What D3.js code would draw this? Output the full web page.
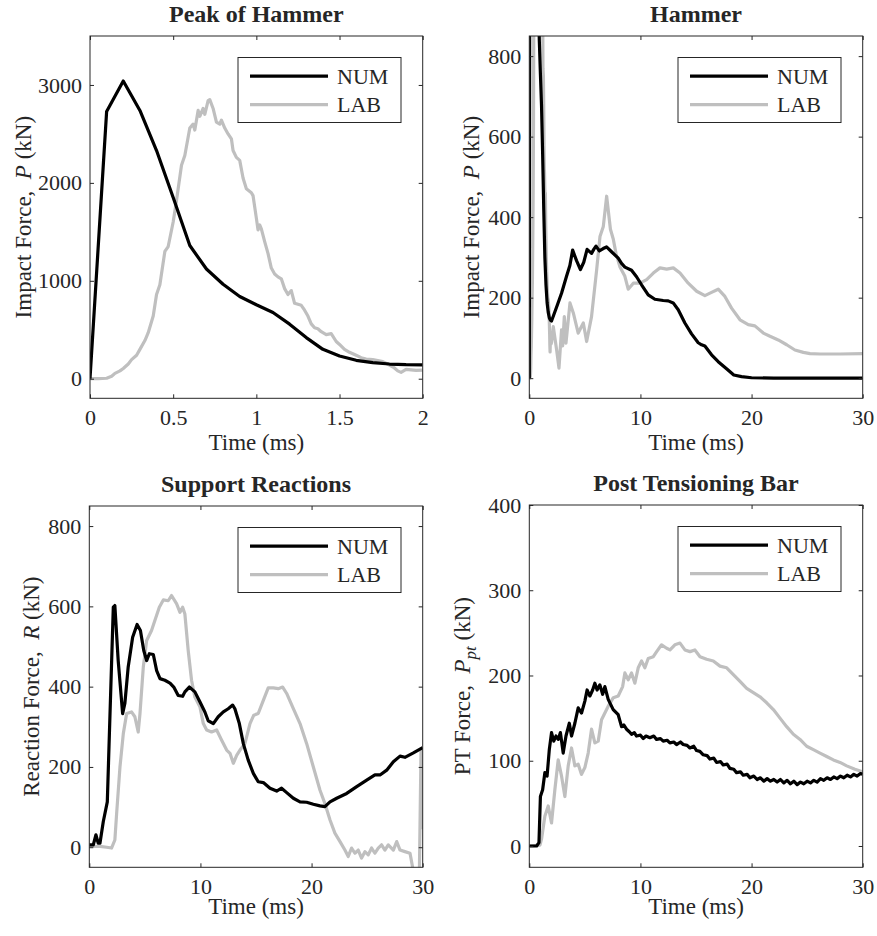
<!DOCTYPE html>
<html>
<head>
<meta charset="utf-8">
<script src="https://cdn.jsdelivr.net/npm/d3@7"></script>
<style>
  body { margin: 0; background: #fff; }
  svg { display: block; }
  text { font-family: "Liberation Serif", "Times New Roman", Times, serif; fill: #262626; white-space: pre; }
</style>
</head>
<body>
<svg id="fig" width="877" height="936"></svg>
<script>
// ---- data: [time (ms), force (kN)] ----
const seriesNames = ["NUM", "LAB"];

// impact force, first 2 ms
const peakNum = [[0,0],[0.1,2730],[0.2,3040],[0.3,2740],[0.4,2330],[0.5,1850],[0.6,1360],[0.7,1120],
  [0.8,965],[0.9,840],[1.0,755],[1.1,676],[1.2,557],[1.3,420],[1.4,300],[1.5,232],[1.6,188],[1.7,164],
  [1.8,150],[1.9,144],[2.0,142]];
const peakLab = [[0,0],[0.05,0],[0.1,5],[0.13,25],[0.15,55],[0.18,80],[0.2,105],[0.23,150],[0.25,195],
  [0.28,240],[0.3,300],[0.33,390],[0.35,470],[0.38,640],[0.4,860],[0.42,960],[0.45,1300],[0.47,1350],
  [0.5,1600],[0.52,1820],[0.55,2180],[0.57,2280],[0.6,2560],[0.62,2600],[0.63,2540],[0.65,2740],
  [0.66,2680],[0.68,2760],[0.69,2700],[0.71,2840],[0.72,2850],[0.74,2760],[0.76,2620],[0.78,2600],
  [0.79,2640],[0.81,2560],[0.83,2500],[0.85,2450],[0.86,2330],[0.88,2260],[0.9,2230],[0.92,2050],
  [0.94,1940],[0.97,1900],[0.98,1870],[1.0,1640],[1.01,1520],[1.02,1570],[1.03,1530],[1.05,1400],
  [1.07,1280],[1.09,1130],[1.11,1070],[1.13,1040],[1.15,1020],[1.17,920],[1.19,860],[1.21,900],
  [1.23,770],[1.25,760],[1.27,750],[1.29,700],[1.31,640],[1.33,560],[1.35,520],[1.37,510],[1.39,480],
  [1.42,450],[1.45,460],[1.48,380],[1.5,350],[1.53,300],[1.56,270],[1.6,240],[1.63,215],[1.66,200],
  [1.7,195],[1.73,185],[1.76,175],[1.8,140],[1.83,110],[1.85,80],[1.87,65],[1.9,95],[1.93,90],
  [1.96,85],[2.0,88]];

// impact force after 2 ms
const hammerNumTail = [[2.5,180],[2.9,211],[3.35,253],[3.65,280],[3.9,318],[4.25,292],[4.6,270],
  [4.9,288],[5.2,320],[5.6,310],[5.8,320],[6.0,328],[6.3,316],[6.65,322],[6.95,326],[7.4,314],[8.0,298],
  [8.3,285],[8.6,276],[9.2,268],[9.65,252],[10.1,232],[10.7,207],[11.3,196],[12.05,193],[12.5,192],
  [12.95,187],[13.4,170],[14.0,137],[14.6,110],[15.2,88],[15.5,83],[15.8,80],[16.4,58],[17.0,41],
  [17.8,22],[18.4,8],[19.1,4],[20.0,1],[22,0],[30,0]];
const hammerLabTail = [[2.16,128],[2.46,70],[2.67,25],[2.9,120],[3.0,80],[3.15,153],[3.3,87],
  [3.66,187],[3.96,162],[4.4,112],[4.86,137],[5.16,91],[5.6,153],[6.06,269],[6.36,352],[6.66,377],
  [6.96,452],[7.3,370],[7.56,345],[7.8,310],[8.16,276],[8.6,253],[8.9,221],[9.36,236],[9.96,236],
  [10.56,245],[11.16,261],[11.76,274],[12.36,271],[12.96,274],[13.56,261],[14.3,236],[15.06,216],
  [15.8,205],[16.4,213],[17.0,221],[17.6,203],[18.2,174],[18.96,145],[19.7,133],[20.3,130],
  [21.06,112],[21.66,104],[22.4,95],[23.16,83],[23.9,70],[24.66,64],[25.26,61],[26.16,60],
  [27.96,60],[30,61]];

// support reaction
const supportNum = [[0,6],[0.36,6],[0.6,31],[0.8,10],[0.96,10],[1.26,64],[1.62,113],[2.16,598],
  [2.3,602],[2.6,465],[3.0,333],[3.2,358],[3.5,449],[3.9,523],[4.3,555],[4.6,540],[4.9,490],[5.16,465],
  [5.4,482],[5.76,480],[6.06,440],[6.36,420],[6.8,416],[7.26,409],[7.6,399],[8.0,378],[8.4,376],
  [8.6,387],[9.0,399],[9.5,387],[9.96,362],[10.4,337],[10.7,315],[11.16,308],[11.6,325],[12.06,337],
  [12.5,345],[12.9,354],[13.1,345],[13.5,308],[13.86,258],[14.3,217],[14.76,184],[15.2,163],
  [15.66,161],[16.26,147],[16.86,140],[17.3,147],[17.76,136],[18.36,122],[18.96,113],[19.56,112],
  [20.16,107],[20.76,103],[21.2,101],[21.66,113],[22.26,122],[23.16,134],[24.06,151],[24.96,167],
  [25.7,180],[26.16,180],[26.76,192],[27.36,213],[27.96,227],[28.4,224],[29.16,235],[30,248]];
const supportLab = [[0,2],[0.96,2],[1.56,0],[2.0,-2],[2.3,18],[2.46,84],[2.76,200],[3.06,283],
  [3.36,333],[3.8,337],[4.1,325],[4.4,287],[4.56,333],[4.86,449],[5.16,515],[5.6,540],[5.9,565],
  [6.3,598],[6.66,616],[7.1,614],[7.4,627],[7.86,606],[8.16,585],[8.4,598],[8.6,581],[8.9,490],
  [9.2,416],[9.5,374],[9.96,349],[10.26,308],[10.56,292],[11.0,287],[11.46,292],[11.9,267],
  [12.36,242],[12.66,234],[12.96,209],[13.26,229],[13.56,242],[14.0,258],[14.46,308],[14.8,329],
  [15.2,333],[15.66,366],[16.1,397],[16.56,397],[17.0,395],[17.4,399],[17.76,383],[18.36,345],
  [18.96,308],[19.56,258],[20.16,200],[20.76,142],[21.2,109],[21.66,68],[22.1,35],[22.56,14],
  [23.0,-7],[23.3,-23],[23.6,-2],[23.9,-15],[24.2,-7],[24.5,-27],[24.8,-11],[25.1,-19],[25.4,-2],
  [25.7,-15],[26.0,-2],[26.3,6],[26.6,-7],[26.9,6],[27.36,-7],[27.66,14],[27.96,-7],[28.4,-11],
  [28.86,-15],[29.16,-60],[29.7,-65],[29.85,245],[30,45]];

// post-tensioning bar force
const ptNum = [[0,0],[0.66,0],[0.87,4],[1.0,58],[1.2,66],[1.4,86],[1.6,82],[1.8,113],[2.0,133],
  [2.2,123],[2.4,129],[2.6,125],[2.8,133],[3.05,109],[3.3,129],[3.6,144],[3.8,129],[4.1,144],[4.4,162],
  [4.7,156],[5.0,170],[5.2,183],[5.45,176],[5.7,183],[5.9,191],[6.1,183],[6.35,189],[6.6,178],
  [6.8,187],[7.1,172],[7.55,160],[8.0,154],[8.3,140],[8.5,142],[8.75,137],[9.0,134],[9.2,131],
  [9.45,133],[9.65,129],[10.0,130],[10.25,126],[10.5,129],[10.85,127],[11.2,129],[11.45,125],
  [11.8,126],[12.05,123],[12.4,124],[12.65,121],[13.0,122],[13.25,119],[13.6,122],[13.85,119],
  [14.2,118],[14.45,115],[14.8,117],[15.05,112],[15.35,111],[15.65,107],[16.0,106],[16.25,102],
  [16.6,103],[16.85,98],[17.2,99],[17.45,95],[17.8,96],[18.05,91],[18.4,90],[18.65,86],[19.0,87],
  [19.25,83],[19.6,84],[19.85,80],[20.2,82],[20.5,78],[20.8,80],[21.1,76],[21.4,79],[21.7,76],
  [22.0,78],[22.3,75],[22.6,78],[22.9,74],[23.2,77],[23.5,73],[23.8,76],[24.1,72],[24.4,75],[24.7,73],
  [25.0,76],[25.3,74],[25.6,77],[25.9,75],[26.2,79],[26.5,77],[26.8,80],[27.1,78],[27.4,81],[27.7,79],
  [28.0,82],[28.3,80],[28.6,83],[28.9,81],[29.2,84],[29.5,82],[29.8,85],[30,84]];
const ptLab = [[0,0],[0.96,1],[1.1,8],[1.4,35],[1.7,47],[2.0,27],[2.3,66],[2.6,101],[2.9,82],
  [3.2,58],[3.5,94],[3.8,115],[4.1,94],[4.4,96],[4.7,84],[5.0,92],[5.3,109],[5.6,137],[5.9,121],
  [6.2,123],[6.5,148],[6.8,156],[7.1,164],[7.56,174],[8.0,176],[8.4,187],[8.6,203],[8.9,195],
  [9.2,203],[9.5,191],[9.8,209],[10.1,217],[10.4,209],[10.7,220],[11.16,222],[11.46,228],[11.9,236],
  [12.36,232],[12.66,230],[13.1,236],[13.56,238],[14.0,230],[14.46,228],[14.9,230],[15.36,222],
  [15.96,219],[16.56,217],[17.16,211],[17.76,209],[18.36,201],[18.96,193],[19.56,185],[20.16,180],
  [20.76,175],[21.36,168],[21.96,160],[22.56,150],[23.16,140],[23.76,131],[24.36,125],[24.96,117],
  [25.56,113],[26.16,109],[26.76,105],[27.36,101],[27.96,98],[28.56,94],[29.3,90],[30,87]];

// ---- axes ----
const peakTimeTicks = [0, 0.5, 1, 1.5, 2];
const timeTicks = [0, 10, 20, 30];
const peakForceTicks = [0, 1000, 2000, 3000];
const forceTicks = [0, 200, 400, 600, 800];
const ptForceTicks = [0, 100, 200, 300, 400];

const titles = ["Peak of Hammer", "Hammer", "Support Reactions", "Post Tensioning Bar"];
const xLabel = "Time (ms)";

const NUM_COLOR = "#000000";
const LAB_COLOR = "#bfbfbf";
const AXIS_COLOR = "#262626";

const panels = [
  { title: titles[0], frame: [90, 36, 422.7, 398.3], xDomain: [0, 2], yDomain: [-200, 3500],
    xTicks: peakTimeTicks, yTicks: peakForceTicks, num: peakNum, lab: peakLab,
    yLabel: [["Impact Force,  "], ["P", "italic"], [" (kN)"]], yLabelOffset: 59, xLabelOffset: 52 },
  { title: titles[1], frame: [529.3, 36, 862.7, 398.3], xDomain: [0, 30], yDomain: [-50, 850],
    xTicks: timeTicks, yTicks: forceTicks, num: peakNum.concat(hammerNumTail),
    lab: peakLab.concat(hammerLabTail),
    yLabel: [["Impact Force,  "], ["P", "italic"], [" (kN)"]], yLabelOffset: 50, xLabelOffset: 52 },
  { title: titles[2], frame: [89.3, 506, 422.7, 867.3], xDomain: [0, 30], yDomain: [-50, 850],
    xTicks: timeTicks, yTicks: forceTicks, num: supportNum, lab: supportLab,
    yLabel: [["Reaction Force,  "], ["R", "italic"], [" (kN)"]], yLabelOffset: 50, xLabelOffset: 47 },
  { title: titles[3], frame: [529.3, 505, 862.7, 867.3], xDomain: [0, 30], yDomain: [-25, 400],
    xTicks: timeTicks, yTicks: ptForceTicks, num: ptNum, lab: ptLab,
    yLabel: [["PT Force,  "], ["P", "italic"], ["pt", "sub"], [" (kN)"]], yLabelOffset: 59, xLabelOffset: 47 }
];

const svg = d3.select("#fig");

panels.forEach((p, i) => {
  const [l, t, r, b] = p.frame;
  const x = d3.scaleLinear().domain(p.xDomain).range([l, r]);
  const y = d3.scaleLinear().domain(p.yDomain).range([b, t]);
  const g = svg.append("g");

  const clipId = "clip" + i;
  svg.append("clipPath").attr("id", clipId)
    .append("rect").attr("x", l).attr("y", t).attr("width", r - l).attr("height", b - t);

  // series
  const line = d3.line().x(d => x(d[0])).y(d => y(d[1]));
  const lines = g.append("g").attr("clip-path", `url(#${clipId})`);
  [[p.lab, LAB_COLOR], [p.num, NUM_COLOR]].forEach(([data, col]) => {
    lines.append("path").datum(data).attr("d", line)
      .attr("fill", "none").attr("stroke", col).attr("stroke-width", 3.2)
      .attr("stroke-linejoin", "round").attr("stroke-linecap", "butt");
  });

  // box axes with inward ticks on all four sides
  const fmt = d => String(d);
  const styleAxis = sel => {
    sel.selectAll("path.domain").remove();
    sel.selectAll("line").attr("stroke", AXIS_COLOR).attr("stroke-width", 1);
    sel.selectAll("text").attr("fill", AXIS_COLOR).style("font-size", "22px")
      .style("font-family", '"Liberation Serif", "Times New Roman", serif');
  };
  g.append("g").attr("transform", `translate(0,${b})`)
    .call(d3.axisBottom(x).tickValues(p.xTicks).tickFormat(fmt).tickSizeInner(-4).tickSizeOuter(0).tickPadding(11))
    .call(styleAxis);
  g.append("g").attr("transform", `translate(0,${t})`)
    .call(d3.axisTop(x).tickValues(p.xTicks).tickFormat("").tickSizeInner(-4).tickSizeOuter(0))
    .call(styleAxis);
  g.append("g").attr("transform", `translate(${l},0)`)
    .call(d3.axisLeft(y).tickValues(p.yTicks).tickFormat(fmt).tickSizeInner(-4).tickSizeOuter(0).tickPadding(8))
    .call(styleAxis);
  g.append("g").attr("transform", `translate(${r},0)`)
    .call(d3.axisRight(y).tickValues(p.yTicks).tickFormat("").tickSizeInner(-4).tickSizeOuter(0))
    .call(styleAxis);

  g.append("rect").attr("x", l).attr("y", t).attr("width", r - l).attr("height", b - t)
    .attr("fill", "none").attr("stroke", AXIS_COLOR).attr("stroke-width", 1);

  // title
  g.append("text").attr("x", (l + r) / 2).attr("y", t - 14)
    .attr("text-anchor", "middle").style("font-size", "24px").style("font-weight", "bold")
    .attr("fill", "#000").text(p.title);

  // x label
  g.append("text").attr("x", (l + r) / 2).attr("y", b + p.xLabelOffset)
    .attr("text-anchor", "middle").style("font-size", "23px").text(xLabel);

  // y label
  const yl = g.append("text")
    .attr("transform", `translate(${l - p.yLabelOffset},${(t + b) / 2}) rotate(-90)`)
    .attr("text-anchor", "middle").style("font-size", "23px");
  const hasSub = p.yLabel.some(e => e[1] === "sub");
  p.yLabel.forEach(([s, kind], k) => {
    const ts = yl.append("tspan").text(s);
    if (kind === "italic") ts.style("font-style", "italic");
    if (kind === "sub") ts.style("font-style", "italic").style("font-size", "17px").attr("dy", 6);
    if (kind === undefined && hasSub && k > 0) ts.attr("dy", -6);
  });

  // legend
  const lw = 163, lh = 65;
  const lx = r - 21.7 - lw, ly = t + 21.5;
  const leg = g.append("g");
  leg.append("rect").attr("x", lx).attr("y", ly).attr("width", lw).attr("height", lh)
    .attr("fill", "#fff").attr("stroke", AXIS_COLOR).attr("stroke-width", 1);
  [[seriesNames[0], NUM_COLOR], [seriesNames[1], LAB_COLOR]].forEach(([name, col], k) => {
    const yy = ly + 18.7 + k * 28.5;
    leg.append("line").attr("x1", lx + 12).attr("x2", lx + 90).attr("y1", yy).attr("y2", yy)
      .attr("stroke", col).attr("stroke-width", 3.2);
    leg.append("text").attr("x", lx + 99).attr("y", yy).attr("dy", "0.35em")
      .style("font-size", "22px").attr("fill", "#000").text(name);
  });
});
</script>
</body>
</html>
